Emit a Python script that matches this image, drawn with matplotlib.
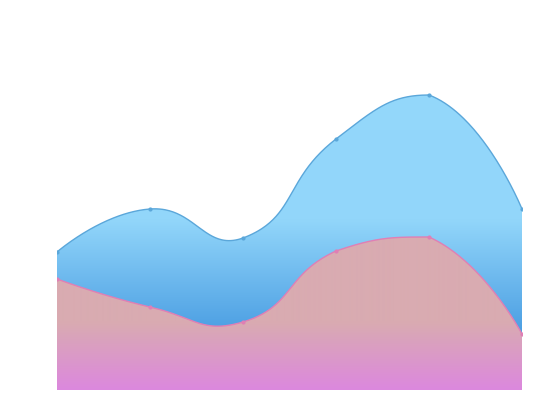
import numpy as np
import matplotlib
matplotlib.use("Agg")
import matplotlib.pyplot as plt
from matplotlib.colors import to_rgb

# Data
categories = ["1", "2", "3", "4", "5", "6"]
series_blue = [138, 181, 152, 251, 295, 181]
series_pink = [111, 83, 68, 139, 153, 56]

fig = plt.figure(figsize=(5.5, 4.2), dpi=100)
ax = fig.add_axes([57 / 550, 30 / 420, 465 / 550, 350 / 420])
x = np.arange(len(categories))
ax.set_xlim(0, len(categories) - 1)
ax.set_ylim(0, 350)
ax.axis("off")


def smooth_curve(ax, xs, ys, smooth=0.5, n=80):
    """ECharts-like bezier smoothing with bounding-box constraint, in display space."""
    pts = ax.transData.transform(np.column_stack([xs, ys]))
    lo = pts.min(axis=0)
    hi = pts.max(axis=0)
    N = len(pts)
    cpl = [pts[0].copy()]
    cpr = [pts[0].copy()]
    for i in range(1, N - 1):
        p, pp, pn = pts[i], pts[i - 1], pts[i + 1]
        v = (pn - pp) * smooth
        d0 = np.linalg.norm(p - pp)
        d1 = np.linalg.norm(p - pn)
        s = d0 + d1
        d0, d1 = d0 / s, d1 / s
        c0 = np.clip(p - v * d0, lo, hi)
        c1 = np.clip(p + v * d1, lo, hi)
        cpl.append(c0)
        cpr.append(c1)
    cpl.append(pts[-1].copy())
    cpr.append(pts[-1].copy())
    out = []
    for i in range(N - 1):
        t = np.linspace(0, 1, n, endpoint=(i == N - 2))[:, None]
        P0, P1, P2, P3 = pts[i], cpr[i], cpl[i + 1], pts[i + 1]
        seg = ((1 - t) ** 3) * P0 + 3 * ((1 - t) ** 2) * t * P1 + 3 * (1 - t) * t ** 2 * P2 + t ** 3 * P3
        out.append(seg)
    out = np.vstack(out)
    d = ax.transData.inverted().transform(out)
    return d[:, 0], d[:, 1]


def grad_fill(ax, xs, ys, stops, z):
    poly = ax.fill_between(xs, 0, ys, color="none", lw=0, zorder=z)
    H = 700
    vals = np.linspace(350, 0, H)
    cols = np.zeros((H, 1, 3))
    sv = [s[0] for s in stops]
    sc = [to_rgb(s[1]) for s in stops]
    for k in range(3):
        cols[:, 0, k] = np.interp(vals, sv[::-1], [c[k] for c in sc[::-1]])
    im = ax.imshow(cols, extent=[0, len(categories) - 1, 0, 350], aspect="auto",
                   origin="upper", zorder=z, interpolation="bilinear")
    im.set_clip_path(poly.get_paths()[0], transform=ax.transData)


bx, by = smooth_curve(ax, x, series_blue)
grad_fill(ax, bx, by, [(350, "#94d8fb"), (170, "#92d6fa"), (55, "#4a9de2"), (0, "#3f93dd")], 1)
ax.plot(bx, by, color="#5ba7da", lw=1.0, zorder=3)
ax.plot(x, series_blue, "o", ms=2, color="#5ba7da", zorder=3)

px_, py_ = smooth_curve(ax, x, series_pink)
grad_fill(ax, px_, py_, [(350, "#d9abb1"), (68, "#d9abb1"), (0, "#dc88de")], 4)
ax.plot(px_, py_, color="#e07fb5", lw=1.0, zorder=5)
ax.plot(x, series_pink, "o", ms=2, color="#e07fb5", zorder=5)

fig.savefig("out.png", dpi=100)
